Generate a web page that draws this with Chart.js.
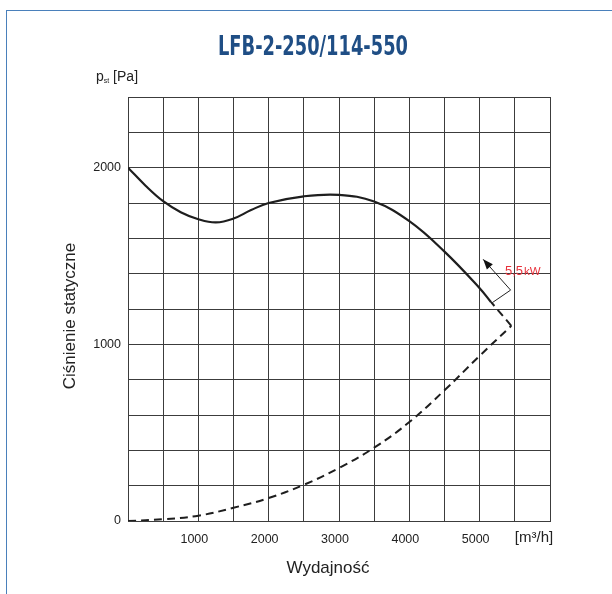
<!DOCTYPE html>
<html><head><meta charset="utf-8">
<script src="https://cdn.jsdelivr.net/npm/chart.js@4/dist/chart.umd.min.js"></script>
<style>
html,body{margin:0;padding:0;background:#fff;}
#wrap{position:relative;width:612px;height:594px;overflow:hidden;background:#fff;}
#frame{position:absolute;left:6px;top:10px;width:700px;height:700px;border-left:1px solid #4a80bb;border-top:1px solid #4a80bb;}
canvas{position:absolute;left:0;top:0;}
</style></head><body>
<div id="wrap"><div id="frame"></div><canvas id="c" width="612" height="594"></canvas></div>
<script>
// ---- data ----
const pressureFlow = [0, 250, 500, 750, 1000, 1250, 1500, 1750, 2000, 2500, 3000, 3500, 4000, 4500, 5000, 5160];
const pressure     = [2000, 1898, 1810, 1748, 1708, 1690, 1712, 1760, 1800, 1838, 1846, 1808, 1697, 1525, 1318, 1240];
const powerFlow    = [0, 500, 1000, 1500, 2000, 2500, 3000, 3500, 4000, 4500, 5000, 5450];
const powerCurve   = [0, 10, 30, 75, 130, 205, 300, 415, 560, 740, 935, 1105];
const connectorFlow  = [5450, 5160];
const connectorValue = [1105, 1240];
const arrowFlow  = [5180, 5440, 5050];   // base, corner, tip
const arrowValue = [1236, 1307, 1481];
const motorLabel = ['5,5', 'kW'];
const motorLabelPos = [5360, 1392];
const xTickValues = [1000, 2000, 3000, 4000, 5000];
const yTickValues = [0, 1000, 2000];
const titleText = 'LFB-2-250/114-550';
const xUnit = '[m³/h]';
const xTitle = 'Wydajność';
const yTitle = 'Ciśnienie statyczne';

const toPts = (xs, ys) => xs.map((x, i) => ({x: x, y: ys[i]}));
const FONT = '"Liberation Sans", Arial, Helvetica, sans-serif';

const textPlugin = {
  id: 'texts',
  afterDraw(chart) {
    const ctx = chart.ctx, xs = chart.scales.x, ys = chart.scales.y;
    ctx.save();
    // title
    ctx.fillStyle = '#1f4e85';
    ctx.font = 'bold 27px "Liberation Sans Narrow", "DejaVu Sans Condensed", sans-serif';
    ctx.textAlign = 'center'; ctx.textBaseline = 'alphabetic';
    ctx.fillText(titleText, 313, 55, 190);
    // p_st [Pa]
    ctx.fillStyle = '#222';
    ctx.textAlign = 'left';
    ctx.font = '14px ' + FONT;
    ctx.fillText('p', 96, 81);
    let px = 96 + ctx.measureText('p').width;
    ctx.font = '7px ' + FONT;
    ctx.fillText('st', px, 83);
    px += ctx.measureText('st').width;
    ctx.font = '14px ' + FONT;
    ctx.fillText(' [Pa]', px, 81);
    // axis titles
    ctx.font = '17px ' + FONT;
    ctx.textAlign = 'center';
    ctx.fillText(xTitle, 328, 573);
    ctx.save();
    ctx.translate(75, 316);
    ctx.rotate(-Math.PI / 2);
    ctx.textBaseline = 'alphabetic';
    ctx.fillText(yTitle, 0, 0);
    ctx.restore();
    // unit
    ctx.font = '15px ' + FONT;
    ctx.textBaseline = 'middle';
    ctx.fillText(xUnit, 534, 538);
    // arrow
    const P = arrowFlow.map((f, i) => [xs.getPixelForValue(f), ys.getPixelForValue(arrowValue[i])]);
    ctx.strokeStyle = '#222'; ctx.lineWidth = 1;
    ctx.beginPath();
    ctx.moveTo(P[0][0], P[0][1]); ctx.lineTo(P[1][0], P[1][1]); ctx.lineTo(P[2][0], P[2][1]);
    ctx.stroke();
    const ang = Math.atan2(P[2][1] - P[1][1], P[2][0] - P[1][0]);
    const L = 10, W = 4;
    ctx.fillStyle = '#111';
    ctx.beginPath();
    ctx.moveTo(P[2][0], P[2][1]);
    ctx.lineTo(P[2][0] - L * Math.cos(ang) + W * Math.sin(ang), P[2][1] - L * Math.sin(ang) - W * Math.cos(ang));
    ctx.lineTo(P[2][0] - L * Math.cos(ang) - W * Math.sin(ang), P[2][1] - L * Math.sin(ang) + W * Math.cos(ang));
    ctx.closePath(); ctx.fill();
    // motor label
    ctx.fillStyle = '#e8313b';
    ctx.textAlign = 'left'; ctx.textBaseline = 'alphabetic';
    const lx = xs.getPixelForValue(motorLabelPos[0]), ly = ys.getPixelForValue(motorLabelPos[1]);
    ctx.font = '13px ' + FONT;
    ctx.fillText(motorLabel[0], lx, ly);
    const w0 = ctx.measureText(motorLabel[0]).width;
    ctx.font = '11.5px ' + FONT;
    ctx.fillText(motorLabel[1], lx + w0 + 1, ly);
    ctx.restore();
  }
};

new Chart(document.getElementById('c'), {
  type: 'scatter',
  data: {
    datasets: [
      { data: toPts(pressureFlow, pressure), showLine: true, borderColor: '#1e1e1e', borderWidth: 2.2,
        pointRadius: 0, tension: 0.4, fill: false },
      { data: toPts(powerFlow, powerCurve), showLine: true, borderColor: '#1e1e1e', borderWidth: 2,
        borderDash: [8, 5], pointRadius: 0, tension: 0.4, fill: false },
      { data: toPts(connectorFlow, connectorValue), showLine: true, borderColor: '#1e1e1e', borderWidth: 2,
        borderDash: [8, 5], pointRadius: 0, fill: false }
    ]
  },
  options: {
    responsive: false, animation: false, devicePixelRatio: 1,
    layout: { padding: { top: 97, right: 62, left: 0, bottom: 0 } },
    plugins: { legend: { display: false }, tooltip: { enabled: false }, title: { display: false } },
    scales: {
      x: {
        type: 'linear', min: 0, max: 6000,
        afterFit(s) { s.height = 73; },
        grid: { color: '#3c3c3c', lineWidth: 1, drawTicks: false },
        border: { color: '#3c3c3c', width: 1 },
        ticks: { stepSize: 500, autoSkip: false, maxRotation: 0, padding: 11, labelOffset: -4,
          color: '#222', font: { family: FONT, size: 12.5 },
          callback: v => xTickValues.includes(v) ? String(v) : '' }
      },
      y: {
        type: 'linear', min: 0, max: 2400,
        afterFit(s) { s.width = 128; },
        grid: { color: '#3c3c3c', lineWidth: 1, drawTicks: false },
        border: { color: '#3c3c3c', width: 1 },
        ticks: { stepSize: 200, autoSkip: false, padding: 7,
          color: '#222', font: { family: FONT, size: 12.5 },
          callback: v => yTickValues.includes(v) ? String(v) : '' }
      }
    }
  },
  plugins: [textPlugin]
});
</script>
</body></html>
